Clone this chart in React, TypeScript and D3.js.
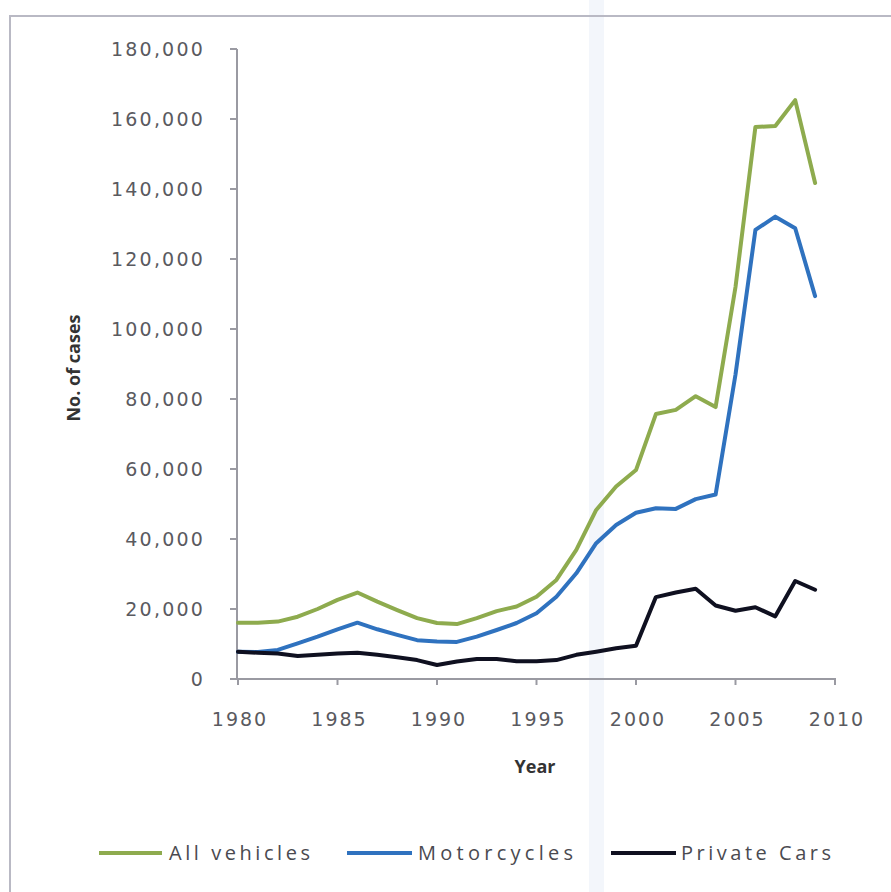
import React from "react";
import * as d3 from "d3";

const years = d3.range(1980, 2010);
const allVehicles = [16100, 16100, 16400, 17800, 20000, 22600, 24700, 22100, 19700, 17400, 16000, 15700, 17400, 19400, 20700, 23500, 28300, 36900, 48300, 55000, 59700, 75700, 76900, 80800, 77700, 112000, 157700, 158000, 165400, 141700];
const motorcycles = [7800, 7700, 8300, 10200, 12100, 14200, 16100, 14200, 12600, 11100, 10700, 10600, 12100, 14000, 16000, 18800, 23500, 30200, 38800, 44000, 47500, 48800, 48600, 51400, 52700, 87000, 128300, 132100, 128800, 109400];
const privateCars = [7800, 7500, 7300, 6600, 6900, 7300, 7500, 6900, 6200, 5400, 4000, 5000, 5700, 5700, 5100, 5100, 5400, 6900, 7800, 8800, 9500, 23400, 24700, 25800, 21000, 19500, 20500, 17900, 28000, 25500];
const yTicks = [0, 20000, 40000, 60000, 80000, 100000, 120000, 140000, 160000, 180000];
const xTicks = [1980, 1985, 1990, 1995, 2000, 2005, 2010];
const seriesNames = ["All vehicles", "Motorcycles", "Private Cars"];
const seriesColors = ["#8eab4e", "#2f72bf", "#0f1020"];

export default function App() {
  const x = d3.scaleLinear().domain([1980, 2010]).range([238, 835]);
  const y = d3.scaleLinear().domain([0, 180000]).range([679, 49]);
  const line = d3
    .line<number>()
    .x((_, i) => x(years[i]))
    .y((d) => y(d));
  const series = [allVehicles, motorcycles, privateCars];
  const fmt = d3.format(",");
  const legend = [
    { x1: 99, x2: 162, tx: 169, tw: 141 },
    { x1: 347, x2: 412, tx: 418, tw: 155 },
    { x1: 611, x2: 676, tx: 681, tw: 150 },
  ];
  const order = [0, 1, 2];
  return (
    <svg width={891} height={892} style={{ position: "absolute", left: 0, top: 0, background: "#fff" }}>
      <rect x={0} y={0} width={891} height={892} fill="#fff" />
      <rect x={589} y={0} width={15} height={892} fill="#f3f6fb" />
      <rect x={10} y={16} width={900} height={900} fill="none" stroke="#b9b9c4" strokeWidth={2} />
      {/* axes */}
      <line x1={237} x2={237} y1={49} y2={680} stroke="#9a9aa2" strokeWidth={2} />
      <line x1={236} x2={836} y1={679} y2={679} stroke="#9a9aa2" strokeWidth={2} />
      {yTicks.map((t) => (
        <g key={t}>
          <line x1={230} x2={237} y1={y(t)} y2={y(t)} stroke="#9a9aa2" strokeWidth={2} />
          <text
            x={205}
            y={y(t)}
            dy="0.36em"
            textAnchor="end"
            fontFamily="DejaVu Sans"
            fontSize={19}
            letterSpacing={2.2}
            fill="#5a5a60"
          >
            {fmt(t)}
          </text>
        </g>
      ))}
      {xTicks.map((t) => (
        <g key={t}>
          <line x1={x(t)} x2={x(t)} y1={679} y2={685} stroke="#9a9aa2" strokeWidth={2} />
          <text
            x={x(t) + 2}
            y={719}
            dy="0.36em"
            textAnchor="middle"
            fontFamily="DejaVu Sans"
            fontSize={19}
            letterSpacing={2}
            fill="#5a5a60"
          >
            {t}
          </text>
        </g>
      ))}
      <text x={535} y={767} dy="0.36em" textAnchor="middle" fontFamily="Open Sans" fontWeight="bold" fontSize={18} fill="#333">
        Year
      </text>
      <text
        transform="translate(74,368) rotate(-90)"
        dy="0.36em"
        textAnchor="middle"
        fontFamily="Open Sans"
        fontWeight="bold"
        fontSize={18}
        fill="#333"
      >
        No. of cases
      </text>
      {/* lines */}
      {order.map((i) => (
        <path
          key={i}
          d={line(series[i]) || ""}
          fill="none"
          stroke={seriesColors[i]}
          strokeWidth={4}
          strokeLinejoin="round"
          strokeLinecap="round"
        />
      ))}
      {/* legend */}
      {legend.map((l, i) => (
        <g key={i}>
          <line x1={l.x1} x2={l.x2} y1={853} y2={853} stroke={seriesColors[i]} strokeWidth={4} />
          <text
            x={l.tx}
            y={853}
            dy="0.36em"
            fontFamily="Open Sans"
            fontSize={20}
            fill="#4a4a50"
            textLength={l.tw}
            lengthAdjust="spacing"
          >
            {seriesNames[i]}
          </text>
        </g>
      ))}
    </svg>
  );
}
